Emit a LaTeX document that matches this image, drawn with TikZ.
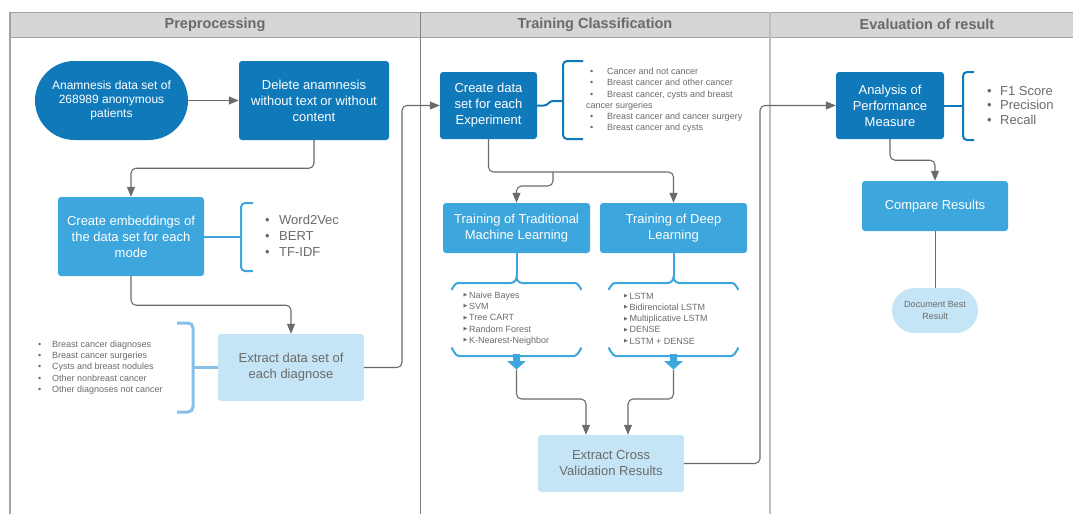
\documentclass[tikz,border=0pt]{standalone}
\usepackage{fontspec}
\setmainfont{Liberation Sans}
\newfontfamily\dvs{DejaVu Sans}
\usetikzlibrary{arrows.meta,shapes.misc}

\definecolor{dkblue}{HTML}{1079BA}
\definecolor{mdblue}{HTML}{3CA6DD}
\definecolor{ltblue}{HTML}{C5E5F6}
\definecolor{brkblue}{HTML}{86BFE8}
\definecolor{txtgray}{HTML}{6A6A6A}
\definecolor{lngray}{HTML}{6B6B6B}
\definecolor{hdrfill}{HTML}{D5D6D8}
\definecolor{hdrline}{HTML}{A3A3A3}

\tikzset{
  box/.style={rectangle, rounded corners=3pt, inner sep=2pt, align=center,
    font=\fontsize{13}{16}\selectfont},
  darkbox/.style={box, fill=dkblue, text=white},
  midbox/.style={box, fill=mdblue, text=white},
  lightbox/.style={box, fill=ltblue, text=txtgray},
  conn/.style={draw=lngray, line width=1.1pt, rounded corners=5pt,
    -{Triangle[length=10pt,width=8pt]}},
  plainconn/.style={draw=lngray, line width=0.9pt},
  brk/.style={line width=2pt, rounded corners=4pt},
  listtxt/.style={anchor=west, inner sep=0pt, align=left, text=txtgray},
  hdr/.style={font=\fontsize{14.5}{16}\selectfont\bfseries, text=txtgray},
}

\newcommand{\bul}[1]{\makebox[#1][l]{\hspace{4pt}•}}
\newcommand{\tri}{\makebox[5.5pt][l]{\raisebox{1.6pt}{\dvs\fontsize{5}{11.3}\selectfont ▶}}}

\begin{document}
\begin{tikzpicture}[x=1pt,y=-1pt]
\useasboundingbox (0,0) rectangle (1073,514);

% header band and lane borders
\fill[hdrfill] (10,12) rectangle (1073,37);
\draw[hdrline, line width=0.8pt] (10,12) -- (1073,12);
\draw[hdrline, line width=0.8pt] (10,37) -- (1073,37);
\draw[hdrline, line width=1.2pt] (10,12) -- (10,514);
\draw[hdrline!80!black, line width=0.8pt] (420,12) -- (420,514);
\draw[hdrline!70, line width=1.6pt] (770,12) -- (770,514);

\node[hdr] (h1) at (215,24.5) {Preprocessing};
\node[hdr] (h2) at (595,24.5) {Training Classification};
\node[hdr] (h3) at (927,24.5) {Evaluation of result};

% ---------- Preprocessing ----------
\node[rounded rectangle, fill=dkblue, text=white, minimum width=157pt,
      minimum height=79pt, inner sep=2pt, align=center,
      font=\fontsize{12}{14.3}\selectfont] (anam) at (111.5,100.5)
      {Anamnesis data set of\\268989 anonymous\\patients};
\node[darkbox, minimum width=150pt, minimum height=79pt] (del) at (314,100.5)
      {Delete anamnesis\\without text or without\\content};
\node[midbox, minimum width=146pt, minimum height=79pt] (emb) at (131,236.5)
      {Create embeddings of\\the data set for each\\mode};
\node[lightbox, minimum width=146pt, minimum height=67pt] (extd) at (291,367.5)
      {Extract data set of\\each diagnose};

\draw[conn] (anam.east) -- (del.west);
\draw[conn] (del.south) -- ++(0,28) -| (emb.north);
\draw[conn] (emb.south) -- ++(0,29) -| (extd.north);

% embedding methods
\draw[mdblue, line width=2pt] (emb.east) -- (241,236.5);
\draw[mdblue, brk] (253,203) -- (241,203) -- (241,271) -- (253,271);
\node[listtxt, font=\fontsize{13}{16}\selectfont] (embl) at (261,236)
      {\bul{18pt}Word2Vec\\\bul{18pt}BERT\\\bul{18pt}TF-IDF};

% diagnose groups
\draw[brkblue, line width=2.6pt] (extd.west) -- (193,367.5);
\draw[brkblue, line width=3pt, rounded corners=5pt]
      (177,323) -- (193,323) -- (193,412) -- (177,412);
\node[listtxt, font=\fontsize{9}{11.3}\selectfont] (diagl) at (34,367.5)
      {\bul{18pt}Breast cancer diagnoses\\\bul{18pt}Breast cancer surgeries\\
       \bul{18pt}Cysts and breast nodules\\\bul{18pt}Other nonbreast cancer\\
       \bul{18pt}Other diagnoses not cancer};

% ---------- Training Classification ----------
\node[darkbox, minimum width=97pt, minimum height=67pt] (cds) at (488.5,105.5)
      {Create data\\set for each\\Experiment};
\draw[conn] (extd.east) -- (402,367.5) |- (cds.west);

\draw[dkblue, line width=2pt]
      (cds.east) -- (544,105.5) to[out=0,in=180] (553,101) -- (563,101);
\draw[dkblue, brk] (583,61) -- (563,61) -- (563,139) -- (583,139);
\node[listtxt, font=\fontsize{9}{11.3}\selectfont] (cdsl) at (586,100.4)
      {\bul{21pt}Cancer and not cancer\\
       \bul{21pt}Breast cancer and other cancer\\
       \bul{21pt}Breast cancer, cysts and breast\\
       cancer surgeries\\
       \bul{21pt}Breast cancer and cancer surgery\\
       \bul{21pt}Breast cancer and cysts};

\node[midbox, minimum width=147pt, minimum height=50pt] (trad) at (516.5,228)
      {Training of Traditional\\Machine Learning};
\node[midbox, minimum width=147pt, minimum height=50pt] (deep) at (673.5,228)
      {Training of Deep\\Learning};

\coordinate (split) at (553,172);
\draw[conn] (cds.south) -- (488.5,172) -| (deep.north);
\draw[conn] (split) -- (553,186) -| (trad.north);

% braces around the model lists
\foreach \c/\n in {516.5/trad, 673.5/deep}{
  \draw[mdblue, line width=2pt]
    (\c-65,288.5) to[out=-90,in=180] (\c-59,283) -- (\c-6,283)
    to[out=0,in=-90] (\c,277) to[out=-90,in=180] (\c+6,283)
    -- (\c+59,283) to[out=0,in=-90] (\c+65,288.5);
  \draw[mdblue, line width=2pt] (\n.south) -- (\c,277);
  \draw[mdblue, line width=2pt]
    (\c-65,349) to[out=90,in=180] (\c-58,356) -- (\c+58,356)
    to[out=0,in=90] (\c+65,349);
  \fill[mdblue] (\c-3.5,354) -- (\c+3.5,354) -- (\c+3.5,361) -- (\c+9.5,361)
    -- (\c,369.5) -- (\c-9.5,361) -- (\c-3.5,361) -- cycle;
}

\node[listtxt, font=\fontsize{9}{11.3}\selectfont] (tradl) at (463.5,318.5)
      {\tri Naive Bayes\\\tri SVM\\\tri Tree CART\\\tri Random Forest\\
       \tri K-Nearest-Neighbor};
\node[listtxt, font=\fontsize{9}{11.3}\selectfont] (deepl) at (624,318.5)
      {\tri LSTM\\\tri Bidirenciotal LSTM\\\tri Multiplicative LSTM\\\tri DENSE\\
       \tri LSTM + DENSE};

\node[lightbox, minimum width=146pt, minimum height=57pt] (xcv) at (611,463.5)
      {Extract Cross\\Validation Results};

\coordinate (tradout) at (516.5,369.5);
\coordinate (deepout) at (673.5,369.5);
\draw[conn] (tradout) -- (516.5,399) -| ([xshift=-25pt]xcv.north);
\draw[conn] (deepout) -- (673.5,399) -| ([xshift=17pt]xcv.north);

% ---------- Evaluation of result ----------
\node[darkbox, minimum width=108pt, minimum height=67pt] (apm) at (890,105.5)
      {Analysis of\\Performance\\Measure};
\draw[conn] (xcv.east) -- (760,463.5) |- (apm.west);

\draw[dkblue, line width=2pt] (apm.east) -- (963,105.5);
\draw[dkblue, brk] (974,72) -- (963,72) -- (963,140) -- (974,140);
\node[listtxt, font=\fontsize{13}{14.7}\selectfont] (apml) at (983,105.3)
      {\bul{17pt}F1 Score\\\bul{17pt}Precision\\\bul{17pt}Recall};

\node[midbox, minimum width=146pt, minimum height=50pt] (cmp) at (935,206)
      {Compare Results};
\draw[conn] (apm.south) -- ++(0,21) -| (cmp.north);

\node[rounded rectangle, fill=ltblue, text=txtgray, minimum width=90pt,
      minimum height=45pt, inner sep=2pt, align=center,
      font=\fontsize{9}{11.3}\selectfont] (doc) at (935,310.5)
      {Document Best\\Result};
\draw[plainconn] (cmp.south) -- (doc.north);
\end{tikzpicture}
\end{document}
